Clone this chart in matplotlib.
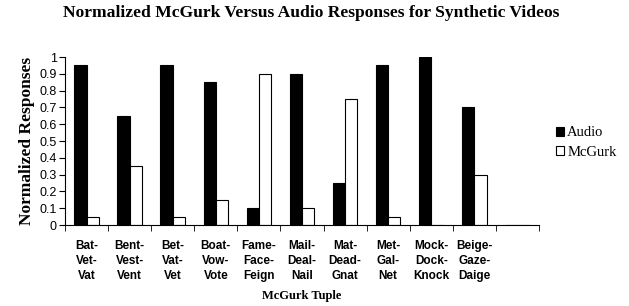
import numpy as np
import matplotlib.pyplot as plt

# ── Data ─────────────────────────────────────────────
tuples = ['Bat-\nVet-\nVat', 'Bent-\nVest-\nVent', 'Bet-\nVat-\nVet', 'Boat-\nVow-\nVote',
          'Fame-\nFace-\nFeign', 'Mail-\nDeal-\nNail', 'Mat-\nDead-\nGnat', 'Met-\nGal-\nNet',
          'Mock-\nDock-\nKnock', 'Beige-\nGaze-\nDaige', '']
audio  = [0.95, 0.65, 0.95, 0.85, 0.10, 0.90, 0.25, 0.95, 1.00, 0.70, 0]
mcgurk = [0.05, 0.35, 0.05, 0.15, 0.90, 0.10, 0.75, 0.05, 0.00, 0.30, 0]
yticks = [0, 0.1, 0.2, 0.3, 0.4, 0.5, 0.6, 0.7, 0.8, 0.9, 1]

serif = 'Liberation Serif'
sans = 'Liberation Sans'

fig = plt.figure(figsize=(6.29, 3.06), dpi=100)
ax = fig.add_axes([65/629, 1 - 225/306, (539-65)/629, (225-57)/306])

x = np.arange(len(tuples))
w = 1 / 3.5
ax.bar(x - w/2, audio, w, color='black', edgecolor='black', linewidth=0.8, label='Audio')
ax.bar(x + w/2, mcgurk, w, color='white', edgecolor='black', linewidth=0.8, label='McGurk')

ax.set_xlim(-0.5, len(tuples) - 0.5)
ax.set_ylim(0, 1)
ax.set_yticks(yticks)
ax.set_yticklabels([f'{v:g}' for v in yticks], fontsize=9, family=sans)

ax.set_xticks(x)
ax.set_xticklabels(tuples, fontsize=8.5, family=sans, fontweight='bold', linespacing=1.3)
ax.tick_params(axis='x', length=0, pad=11)
ax.set_xticks(np.arange(len(tuples) + 1) - 0.5, minor=True)
ax.tick_params(axis='x', which='minor', length=4, direction='out')
ax.tick_params(axis='y', length=4, direction='out', pad=2)

for s in ['top', 'right']:
    ax.spines[s].set_visible(False)

ax.set_ylabel('Normalized Responses', fontsize=12.5, family=serif, fontweight='bold', labelpad=3)
ax.set_xlabel('McGurk Tuple', fontsize=9, family=serif, fontweight='bold', labelpad=6)
fig.suptitle('Normalized McGurk Versus Audio Responses for Synthetic Videos',
             x=0.495, y=0.985, fontsize=12.6, family=serif, fontweight='bold')

ax.legend(loc='center left', bbox_to_anchor=(1.035, 0.49), frameon=False, borderpad=0,
          borderaxespad=0, prop={'family': serif, 'size': 10.5},
          handlelength=0.6, handleheight=0.6, handletextpad=0.2, labelspacing=0.45)

fig.savefig('out.png', dpi=100)
